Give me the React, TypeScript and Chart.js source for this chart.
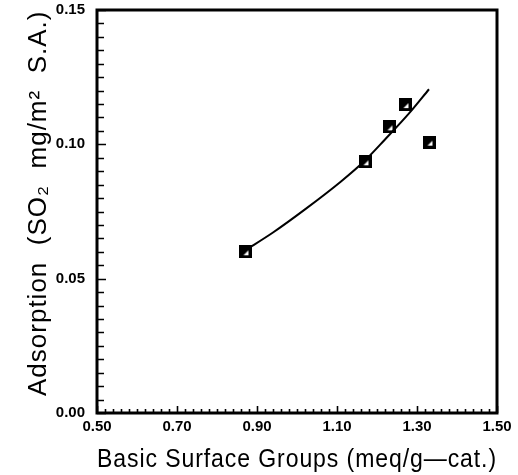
import React, { useEffect, useRef } from "react";
import { Chart, registerables } from "chart.js";

Chart.register(...registerables);

const sampleX = [0.87, 1.17, 1.23, 1.27, 1.33];
const sampleY = [0.06, 0.0935, 0.1065, 0.1148, 0.1008];

const fitX = [0.87, 0.94, 1.02, 1.11, 1.17, 1.22, 1.28, 1.33];
const fitY = [0.0605, 0.0672, 0.0758, 0.0862, 0.094, 0.1018, 0.1115, 0.1205];

const xMin = 0.5;
const xMax = 1.5;
const xMinorStep = 0.02;
const xMajorStep = 0.2;
const yMin = 0;
const yMax = 0.15;
const yMinorStep = 0.005;
const yMajorStep = 0.05;

const xTitle = "Basic Surface Groups (meq/g\u2014cat.)";
const yTitle = "  Adsorption  (SO\u2082  mg/m\u00B2  S.A.)";

const isMajor = (v: number, origin: number, step: number) => {
  const r = (v - origin) / step;
  return Math.abs(r - Math.round(r)) < 1e-6;
};

function makeMarker(): HTMLCanvasElement {
  const c = document.createElement("canvas");
  c.width = 13;
  c.height = 13;
  const ctx = c.getContext("2d")!;
  ctx.fillStyle = "#000";
  ctx.fillRect(0, 0, 13, 13);
  ctx.fillStyle = "#fff";
  ctx.beginPath();
  ctx.moveTo(10, 5);
  ctx.lineTo(10, 10);
  ctx.lineTo(5, 10);
  ctx.closePath();
  ctx.fill();
  return c;
}

// wider letter spacing for the axis titles only (tick labels are drawn in a later layer)
const spacing = {
  id: "spacing",
  beforeDraw(chart: any) {
    (chart.ctx as any).letterSpacing = "1px";
  },
  beforeDatasetsDraw(chart: any) {
    (chart.ctx as any).letterSpacing = "0px";
  },
};

const frameTicks = {
  id: "frameTicks",
  afterDraw(chart: any) {
    const { ctx, chartArea } = chart;
    const xs = chart.scales.x;
    const ys = chart.scales.y;
    ctx.save();
    ctx.strokeStyle = "#000";
    ctx.lineCap = "butt";
    ctx.lineWidth = 1.6;
    ctx.beginPath();
    for (const t of xs.ticks) {
      const px = Math.round(xs.getPixelForValue(t.value)) + 0.5;
      const len = isMajor(t.value, xMin, xMajorStep) ? 7 : 4;
      ctx.moveTo(px, chartArea.bottom);
      ctx.lineTo(px, chartArea.bottom - len);
    }
    for (const t of ys.ticks) {
      const py = Math.round(ys.getPixelForValue(t.value)) + 0.5;
      const len = isMajor(t.value, yMin, yMajorStep) ? 9 : 7;
      ctx.moveTo(chartArea.left, py);
      ctx.lineTo(chartArea.left + len, py);
    }
    ctx.stroke();
    ctx.lineWidth = 3;
    ctx.strokeRect(
      chartArea.left,
      chartArea.top,
      chartArea.right - chartArea.left,
      chartArea.bottom - chartArea.top
    );
    ctx.restore();
  },
};

const tickFont = { family: "Liberation Sans, Arial", size: 15, weight: "bold" as const };
const titleFont = { family: "Liberation Sans, Arial", size: 25 };
const yTitleFont = { family: "Liberation Sans, Arial", size: 26 };

export default function App() {
  const ref = useRef<HTMLCanvasElement>(null);

  useEffect(() => {
    if (!ref.current) return;
    const marker = makeMarker();
    const chart = new Chart(ref.current, {
      type: "scatter",
      data: {
        datasets: [
          {
            label: "fit",
            data: fitX.map((x, i) => ({ x, y: fitY[i] })),
            showLine: true,
            borderColor: "#000",
            borderWidth: 2,
            pointRadius: 0,
            cubicInterpolationMode: "monotone",
          },
          {
            label: "samples",
            data: sampleX.map((x, i) => ({ x, y: sampleY[i] })),
            pointStyle: marker as any,
            pointRadius: 7,
            showLine: false,
          },
        ],
      },
      plugins: [spacing, frameTicks],
      options: {
        animation: false,
        responsive: false,
        maintainAspectRatio: false,
        layout: { padding: { left: 0, top: 10, right: 21, bottom: 0 } },
        plugins: { legend: { display: false }, tooltip: { enabled: false } },
        scales: {
          x: {
            type: "linear",
            min: xMin,
            max: xMax,
            afterFit: (s: any) => {
              s.height = 62;
              s.paddingLeft = 0;
              s.paddingRight = 0;
            },
            grid: { display: false, drawTicks: false },
            border: { display: false },
            ticks: {
              z: 1,
              stepSize: xMinorStep,
              autoSkip: false,
              maxRotation: 0,
              padding: 5,
              color: "#000",
              font: tickFont,
              callback: (v: any) =>
                isMajor(Number(v), xMin, xMajorStep) ? Number(v).toFixed(2) : "",
            },
            title: {
              display: true,
              text: xTitle,
              color: "#000",
              font: titleFont,
              padding: { top: 0, bottom: 0 },
            },
          },
          y: {
            type: "linear",
            min: yMin,
            max: yMax,
            afterFit: (s: any) => {
              s.width = 97;
              s.paddingTop = 0;
              s.paddingBottom = 0;
            },
            grid: { display: false, drawTicks: false },
            border: { display: false },
            ticks: {
              z: 1,
              stepSize: yMinorStep,
              autoSkip: false,
              padding: 12,
              color: "#000",
              font: tickFont,
              callback: (v: any) =>
                isMajor(Number(v), yMin, yMajorStep) ? Number(v).toFixed(2) : "",
            },
            title: {
              display: true,
              text: yTitle,
              color: "#000",
              font: yTitleFont,
              padding: { top: 23, bottom: 0 },
            },
          },
        },
      },
    });
    return () => chart.destroy();
  }, []);

  return (
    <div style={{ position: "fixed", left: 0, top: 0, width: 518, height: 475, background: "#fff" }}>
      <canvas ref={ref} width={518} height={475} style={{ display: "block" }} />
    </div>
  );
}
